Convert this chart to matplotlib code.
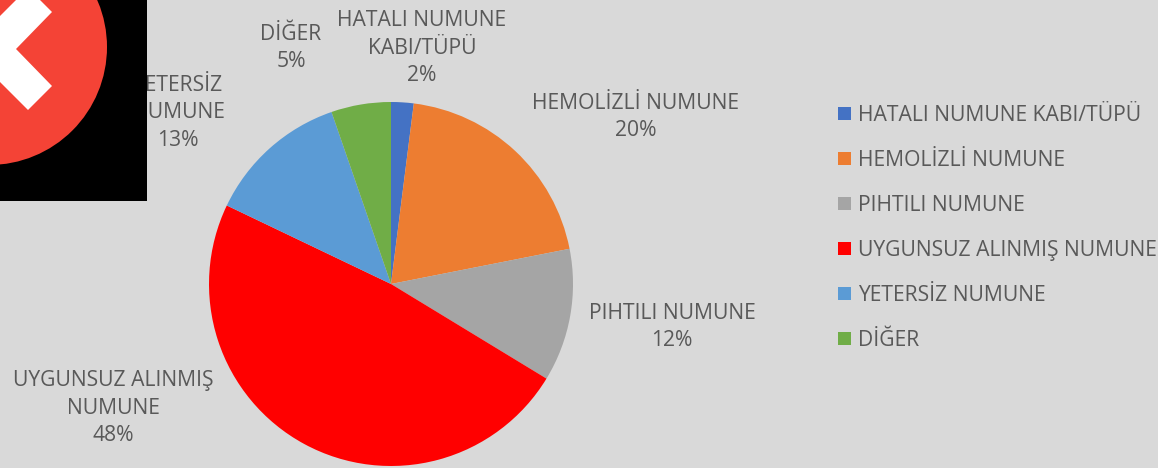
import matplotlib
matplotlib.use("Agg")
import matplotlib.pyplot as plt
from matplotlib.patches import Rectangle, Circle, Polygon

categories = ["HATALI NUMUNE KABI/TÜPÜ", "HEMOLİZLİ NUMUNE", "PIHTILI NUMUNE",
              "UYGUNSUZ ALINMIŞ NUMUNE", "YETERSİZ NUMUNE", "DİĞER"]
values = [2.0, 19.9, 11.8, 48.4, 12.6, 5.3]
colors = ["#4472C4", "#ED7D31", "#A5A5A5", "#FF0000", "#5B9BD5", "#70AD47"]
label_lines = ["HATALI NUMUNE\nKABI/TÜPÜ", "HEMOLİZLİ NUMUNE", "PIHTILI NUMUNE",
               "UYGUNSUZ ALINMIŞ\nNUMUNE", "YETERSİZ\nNUMUNE", "DİĞER"]
label_pos = [(422, 48), (636, 117), (672, 327), (113, 408), (178, 113), (291, 48)]

BG = "#D9D9D9"
TXT = "#595959"
H = 468
plt.rcParams["font.family"] = ["Open Sans", "DejaVu Sans"]

def Y(y):
    return H - y

fig = plt.figure(figsize=(11.58, 4.68), dpi=100, facecolor=BG)
ax = fig.add_axes([0, 0, 1, 1])
ax.set_facecolor(BG)

wedges, _ = ax.pie(values, colors=colors, startangle=90, counterclock=False,
                   center=(391, Y(284)), radius=182, frame=True)
ax.set_xlim(0, 1158)
ax.set_ylim(0, H)
ax.set_aspect("auto")
ax.axis("off")

FS = 15.2
for line, v, (x, y) in zip(label_lines, values, label_pos):
    ax.text(x, Y(y), f"{line}\n{round(v)}%", ha="center", va="center", fontsize=FS,
            color=TXT, linespacing=1.41, zorder=3)

leg_x = 838
leg_ys = [113, 158, 203, 248, 293, 338]
for name, c, y in zip(categories, colors, leg_ys):
    ax.add_patch(Rectangle((leg_x, Y(y) - 6.5), 13, 13, facecolor=c, edgecolor="none"))
    ax.text(leg_x + 20, Y(y + 2.5), name, ha="left", va="center", fontsize=FS, color=TXT)

ax.add_patch(Rectangle((0, Y(201)), 147, 201, facecolor="black", edgecolor="none", zorder=5))
ax.add_patch(Circle((-11, Y(47)), 118, facecolor="#F44336", edgecolor="none", zorder=6))
chevron = [(28, -12), (52, 12), (16, 49), (52, 86), (28, 110), (-33, 49)]
ax.add_patch(Polygon([(x, Y(y)) for x, y in chevron], closed=True,
                     facecolor="white", edgecolor="none", zorder=7))

fig.savefig("out.png", dpi=100, facecolor=BG)
